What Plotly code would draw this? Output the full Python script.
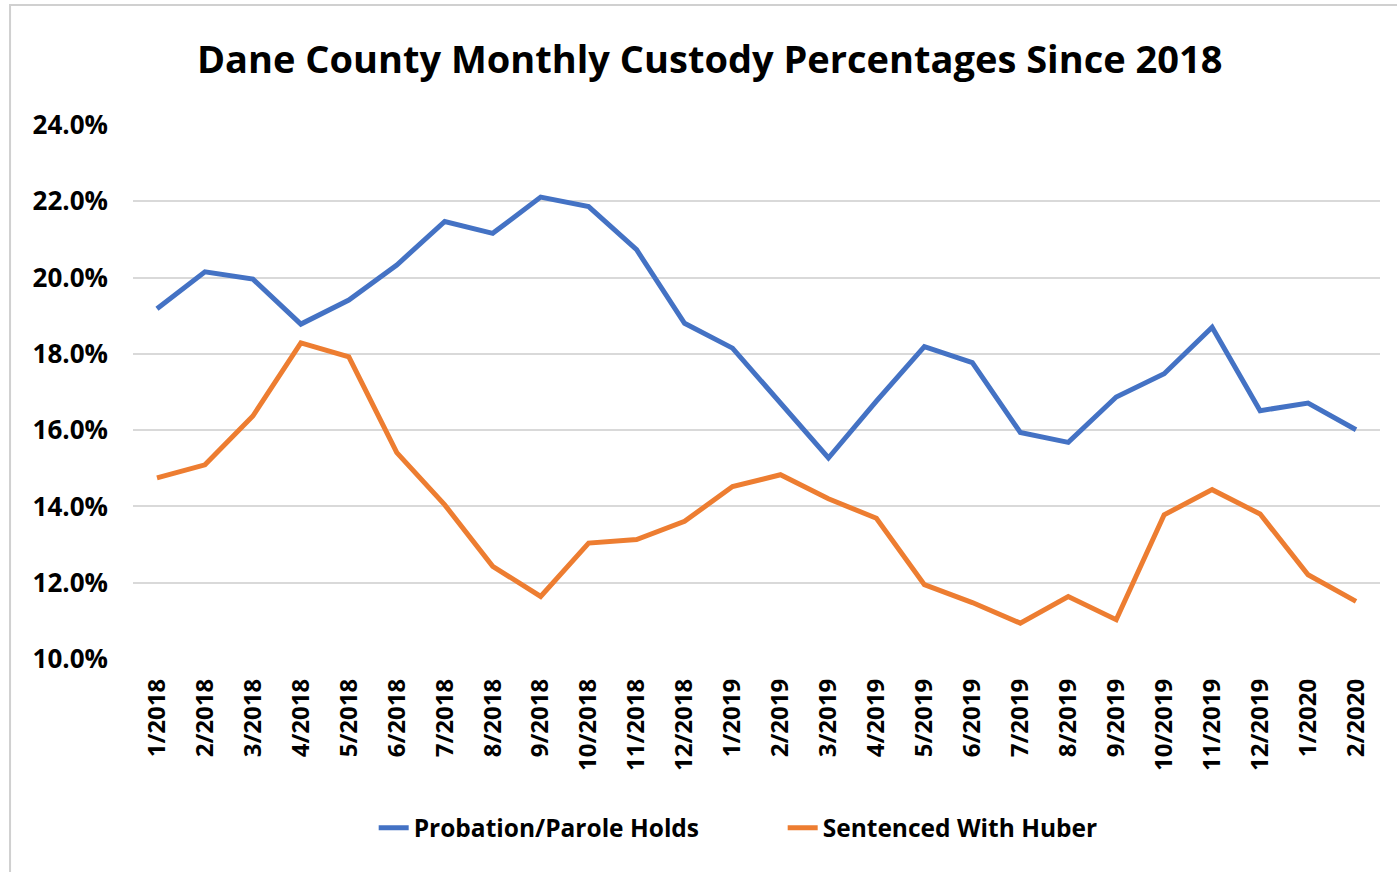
import plotly.graph_objects as go

months = ["1/2018", "2/2018", "3/2018", "4/2018", "5/2018", "6/2018", "7/2018", "8/2018",
          "9/2018", "10/2018", "11/2018", "12/2018", "1/2019", "2/2019", "3/2019", "4/2019",
          "5/2019", "6/2019", "7/2019", "8/2019", "9/2019", "10/2019", "11/2019", "12/2019",
          "1/2020", "2/2020"]

probation_parole = [19.18, 20.15, 19.96, 18.78, 19.41, 20.33, 21.47, 21.16, 22.11, 21.86,
                    20.73, 18.80, 18.15, 16.72, 15.27, 16.76, 18.19, 17.77, 15.94, 15.68,
                    16.87, 17.48, 18.70, 16.51, 16.71, 16.01]

sentenced_huber = [14.75, 15.09, 16.37, 18.29, 17.92, 15.41, 14.04, 12.43, 11.64, 13.04,
                   13.13, 13.61, 14.52, 14.83, 14.20, 13.69, 11.95, 11.48, 10.94, 11.64,
                   11.03, 13.78, 14.44, 13.80, 12.21, 11.51]

y_ticks = [10, 12, 14, 16, 18, 20, 22, 24]
y_tick_labels = [f"{v:.1f}%" for v in y_ticks]

FONT = "Open Sans"

fig = go.Figure()
fig.add_trace(go.Scatter(x=months, y=probation_parole, mode="lines",
                         name="Probation/Parole Holds",
                         line=dict(color="#4472C4", width=5)))
fig.add_trace(go.Scatter(x=months, y=sentenced_huber, mode="lines",
                         name="Sentenced With Huber",
                         line=dict(color="#ED7D31", width=5)))

fig.update_layout(
    width=1397, height=872,
    paper_bgcolor="white", plot_bgcolor="white",
    margin=dict(l=133, r=17, t=125, b=213),
    title=dict(text="Dane County Monthly Custody Percentages Since 2018",
               x=0.508, xanchor="center", y=0.931, yanchor="middle",
               font=dict(family=FONT, size=38, color="black", weight="bold")),
    showlegend=True,
    legend=dict(orientation="h", x=0.521, xanchor="center", y=-0.316, yanchor="middle",
                font=dict(family=FONT, size=24.5, color="black", weight="bold"),
                entrywidth=364, entrywidthmode="pixels", tracegroupgap=0),
    xaxis=dict(type="category", tickangle=-90, range=[-0.5, len(months) - 0.5],
               tickfont=dict(family=FONT, size=24, color="black", weight="bold"),
               showgrid=False, showline=False, ticks="", zeroline=False,
               ticklabelstandoff=14),
    yaxis=dict(range=[10, 24], tickvals=y_ticks, ticktext=y_tick_labels,
               tickfont=dict(family=FONT, size=26, color="black", weight="bold"),
               showgrid=True, gridcolor="#D9D9D9", gridwidth=2,
               showline=False, zeroline=False, ticks="", ticklabelstandoff=24),
)

fig.add_shape(type="rect", xref="paper", yref="paper",
              x0=-0.0986, x1=1.05, y0=-0.45, y1=1.2247,
              line=dict(color="#D0D0D0", width=2), fillcolor="rgba(0,0,0,0)")

fig.write_html("out.html", config={"displayModeBar": False},
               post_script="document.body.style.margin='0';document.body.style.overflow='hidden';")
